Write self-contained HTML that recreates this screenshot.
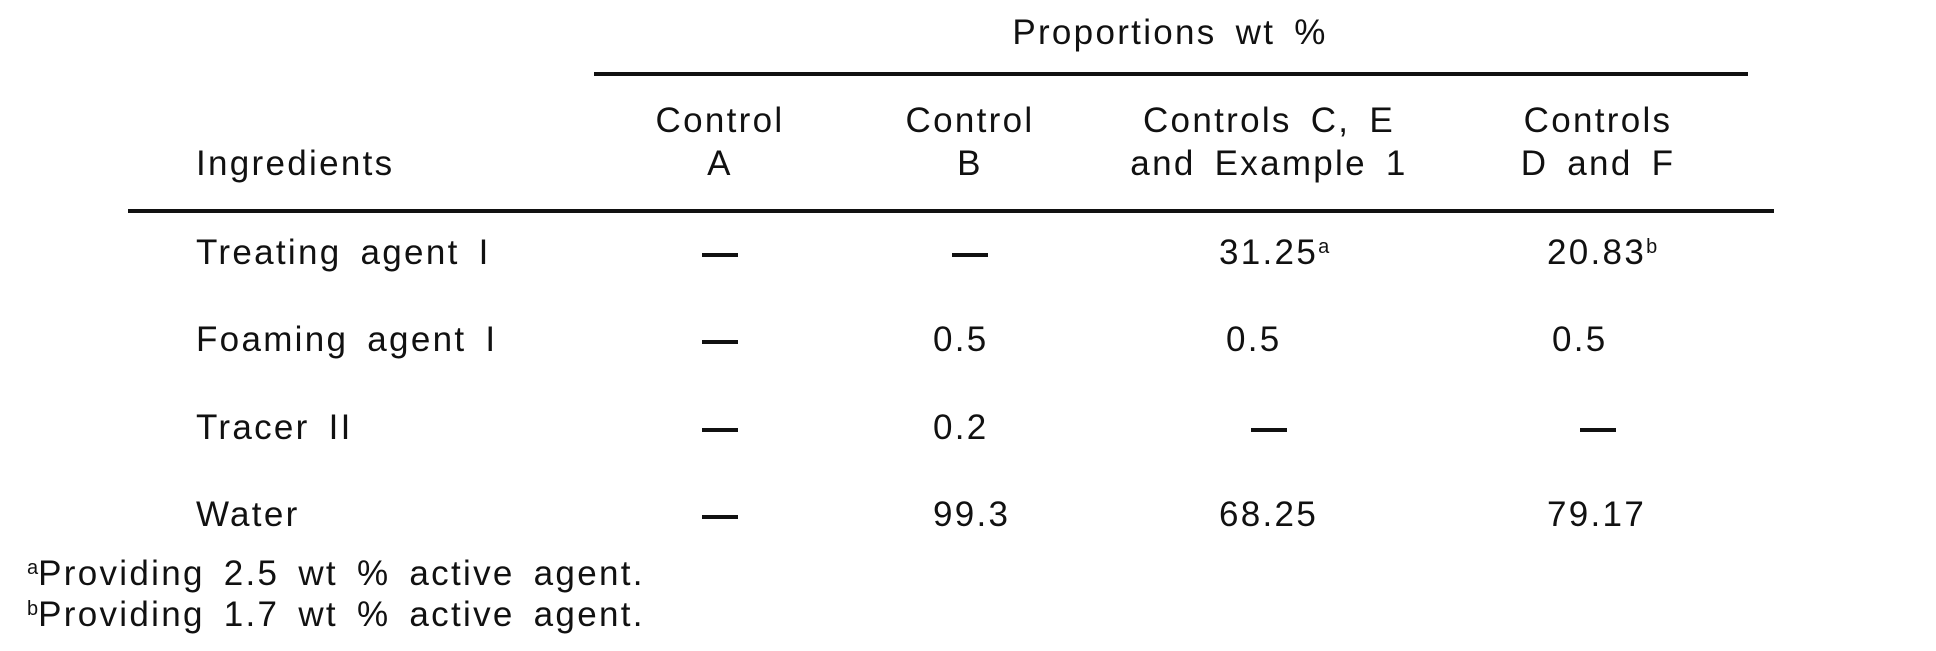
<!DOCTYPE html>
<html><head><meta charset="utf-8"><style>
body{margin:0;background:#fff;width:1936px;height:651px;overflow:hidden;position:relative;font-family:"Liberation Sans",Arial,sans-serif;color:#111;}
.t{position:absolute;font-size:35px;line-height:36px;letter-spacing:2.3px;word-spacing:7px;white-space:nowrap;}
.c{transform:translateX(-50%);text-align:center;}
.l{position:absolute;background:#111;}
sup{font-size:20px;vertical-align:top;position:relative;top:-6px;letter-spacing:0}
.d{position:absolute;height:4px;width:36px;background:#111;}
</style></head><body>
<div class="t c" style="left:1170px;top:15px">Proportions wt %</div>
<div class="l" style="left:594px;top:72px;width:1154px;height:4px"></div>
<div class="t c" style="left:720px;top:103px">Control</div>
<div class="t c" style="left:720px;top:146px">A</div>
<div class="t c" style="left:970px;top:103px">Control</div>
<div class="t c" style="left:970px;top:146px">B</div>
<div class="t c" style="left:1269px;top:103px">Controls C, E</div>
<div class="t c" style="left:1269px;top:146px">and Example 1</div>
<div class="t c" style="left:1598px;top:103px">Controls</div>
<div class="t c" style="left:1598px;top:146px">D and F</div>
<div class="t" style="left:196px;top:146px">Ingredients</div>
<div class="l" style="left:128px;top:209px;width:1646px;height:4px"></div>

<div class="t" style="left:196px;top:235px">Treating agent I</div>
<div class="t" style="left:196px;top:322px">Foaming agent I</div>
<div class="t" style="left:196px;top:410px">Tracer II</div>
<div class="t" style="left:196px;top:497px">Water</div>

<div class="d" style="left:702px;top:253px"></div>
<div class="d" style="left:952px;top:253px"></div>
<div class="t" style="left:1219px;top:235px">31.25<sup>a</sup></div>
<div class="t" style="left:1547px;top:235px">20.83<sup>b</sup></div>

<div class="d" style="left:702px;top:340px"></div>
<div class="t" style="left:933px;top:322px">0.5</div>
<div class="t" style="left:1226px;top:322px">0.5</div>
<div class="t" style="left:1552px;top:322px">0.5</div>

<div class="d" style="left:702px;top:428px"></div>
<div class="t" style="left:933px;top:410px">0.2</div>
<div class="d" style="left:1251px;top:428px"></div>
<div class="d" style="left:1580px;top:428px"></div>

<div class="d" style="left:702px;top:515px"></div>
<div class="t" style="left:933px;top:497px">99.3</div>
<div class="t" style="left:1219px;top:497px">68.25</div>
<div class="t" style="left:1547px;top:497px">79.17</div>

<div class="t" style="left:27px;top:556px"><sup>a</sup>Providing 2.5 wt % active agent.</div>
<div class="t" style="left:27px;top:597px"><sup>b</sup>Providing 1.7 wt % active agent.</div>
</body></html>
